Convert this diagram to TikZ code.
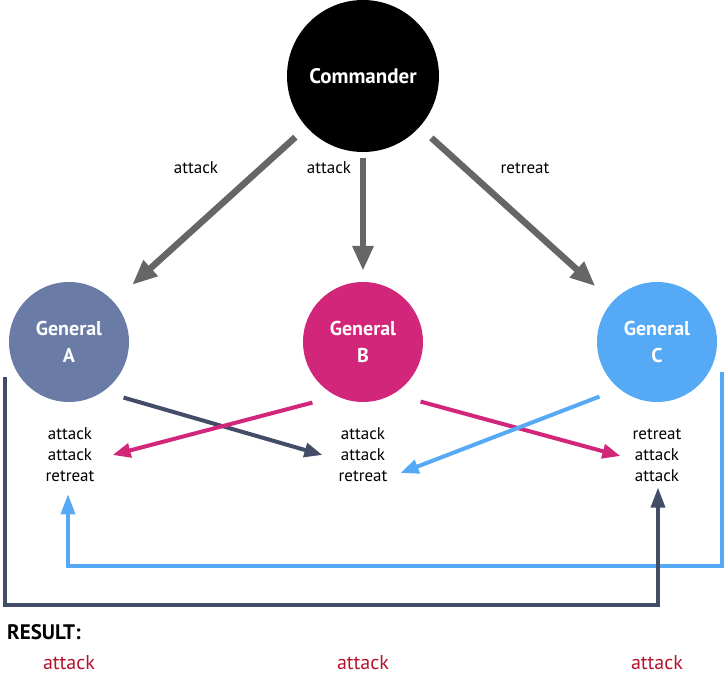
\documentclass[tikz,border=0pt]{standalone}
\usepackage{fontspec}
\setmainfont{PT Sans}
\usetikzlibrary{arrows.meta}
\definecolor{genAcol}{RGB}{106,123,166}
\definecolor{genBcol}{RGB}{209,38,122}
\definecolor{genCcol}{RGB}{86,170,245}
\definecolor{navy}{RGB}{67,77,104}
\definecolor{cmdgray}{RGB}{102,102,102}
\definecolor{resred}{RGB}{181,18,46}
\begin{document}
\begin{tikzpicture}[x=1pt, y=-1pt,
		general/.style={circle, minimum size=120pt, inner sep=0pt, text=white, align=center, font=\fontsize{20}{27}\selectfont\bfseries},
		vote/.style={align=center, inner sep=0pt, font=\fontsize{17}{21}\selectfont},
		order/.style={line width=6.5pt, draw=cmdgray, -{Triangle[width=20pt,length=25pt]}},
		relay/.style={line width=4pt, -{Triangle[width=14pt,length=18pt]}},
		loopline/.style={line width=3.5pt, -{Triangle[width=14pt,length=20pt]}},
		outcome/.style={text=resred, font=\fontsize{20}{20}\selectfont}]
		\useasboundingbox (0,0) rectangle (726,683);
		\node[general, fill=black, minimum size=152pt, font=\fontsize{21}{27}\selectfont\bfseries] (cmd) at (363,76) {Commander};
		\node[general, fill=genAcol] (genA) at (69,342) {General\\A};
		\node[general, fill=genBcol] (genB) at (363,342) {General\\B};
		\node[general, fill=genCcol] (genC) at (657,342) {General\\C};
		
		\node[vote] (stackA) at (70,455) {attack\\attack\\retreat};
		\node[vote] (stackB) at (363,455) {attack\\attack\\retreat};
		\node[vote] (stackC) at (657,455) {retreat\\attack\\attack};
		
		\node[vote] (ordA) at (196,168) {attack};
		\node[vote] (ordB) at (329,168) {attack};
		\node[vote] (ordC) at (525,168) {retreat};
		
		\draw[order, shorten <=15pt, shorten >=25pt] (cmd) -- (genA);
		\draw[order, shorten <=6pt, shorten >=11pt] (cmd) -- (genB);
		\draw[order, shorten <=16pt, shorten >=23pt] (cmd) -- (genC);
		
		\draw[relay, draw=navy] ([shift={(12,13)}]genA.-45) -- ([shift={(-16,0)}]stackB.west);
		\draw[relay, draw=genBcol] ([shift={(-8,18)}]genB.-135) -- ([shift={(18,0)}]stackA.east);
		\draw[relay, draw=genBcol] ([shift={(15,17)}]genB.-45) -- ([shift={(-12,1)}]stackC.west);
		\draw[relay, draw=genCcol] ([shift={(-15,12)}]genC.-135) -- ([shift={(13,18)}]stackB.east);
		
		\draw[loopline, draw=genCcol] ([shift={(5,30)}]genC.east) -- ++(0,194) -| ([shift={(-2,12)}]stackA.south);
		\draw[loopline, draw=navy] ([shift={(-4,35)}]genA.west) -- ++(0,228) -| ([shift={(1,6)}]stackC.south);
		
		\node[anchor=west, inner sep=0pt, font=\fontsize{21}{21}\selectfont\bfseries] (result) at (7,632) {RESULT:};
		\node[outcome] (outA) at (69,663) {attack};
		\node[outcome] (outB) at (363,663) {attack};
		\node[outcome] (outC) at (657,663) {attack};
\end{tikzpicture}
\end{document}
